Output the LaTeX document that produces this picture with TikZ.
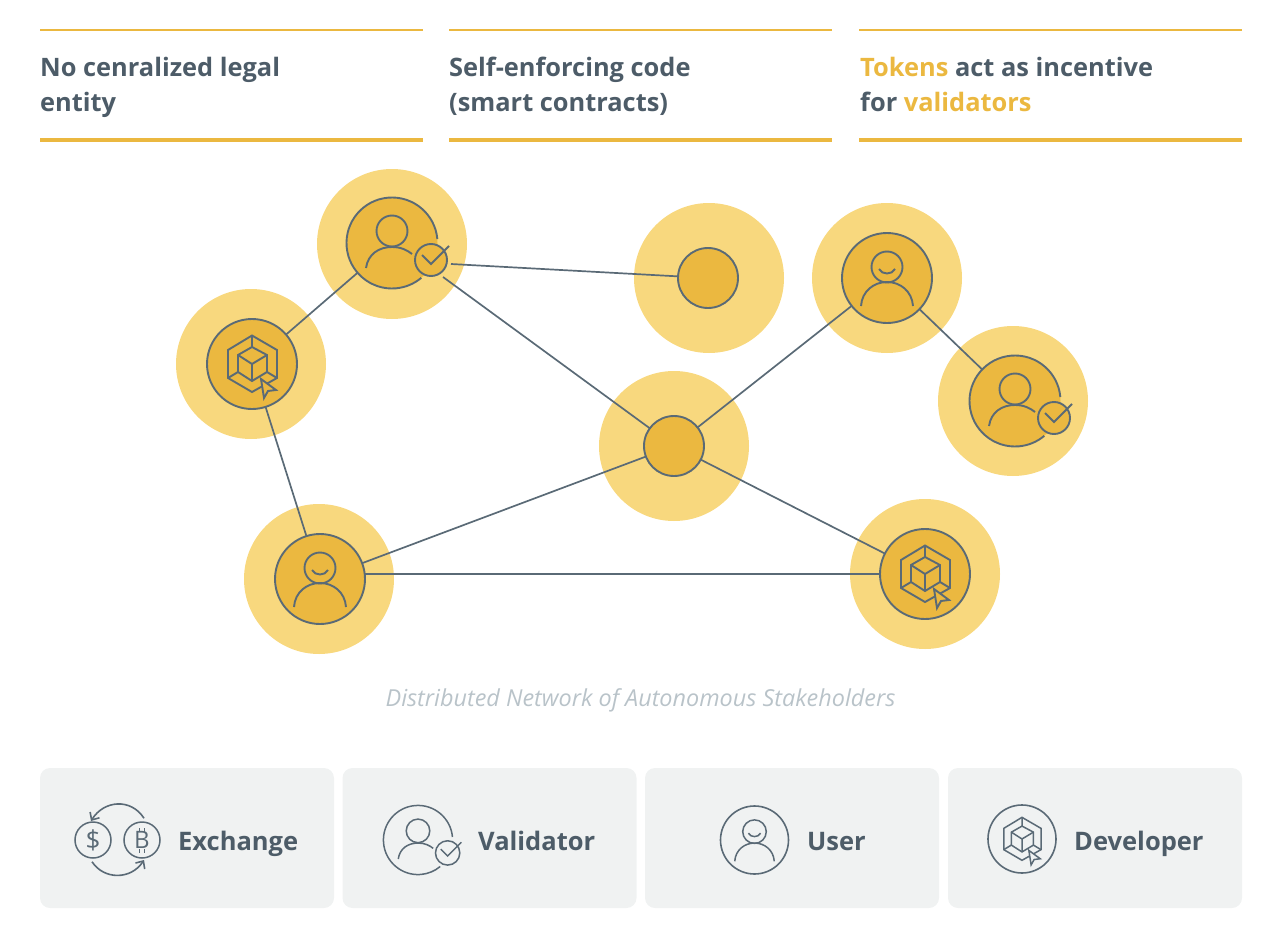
\documentclass[tikz,border=0pt]{standalone}
\usepackage{fontspec}
\setmainfont{Open Sans}
\usetikzlibrary{arrows.meta}

\definecolor{slate}{HTML}{4D5C68}
\definecolor{wire}{HTML}{5A6A76}
\definecolor{gold}{HTML}{EBB840}
\definecolor{halo}{HTML}{F8D87E}
\definecolor{card}{HTML}{F0F2F2}
\definecolor{capt}{HTML}{B9C3C9}

\tikzset{
  pics/validicon/.style={code={
    \draw[glyph] (-5:45.5) arc (-5:-310:45.5);
    \draw[glyph,fill=#1] (39,17) circle (16);
    \draw[glyph] (30,12) -- (39,21) -- (57,3);
    \draw[glyph] (0,-12) circle (15.5);
    \draw[glyph] (-26,25) .. controls (-24,11) and (-13,4) .. (0,4) .. controls (9,4) and (15,7) .. (20,11);
  }},
  pics/usericon/.style={code={
    \draw[glyph] (0,-11) circle (15.5);
    \draw[glyph] (-8,-9) .. controls (-5,-3) and (5,-3) .. (8,-9);
    \draw[glyph] (-26,28) .. controls (-25,13) and (-13,4) .. (0,4) .. controls (13,4) and (25,13) .. (26,28);
  }},
  pics/cubeicon/.style={code={
    \draw[glyph] (0,-28.5) -- (25,-14) -- (25,14) -- (0,28) -- (-24,14) -- (-24,-14) -- cycle;
    \draw[glyph] (0,-17) -- (15,-9) -- (15,8) -- (0,17) -- (-14,8) -- (-14,-9) -- cycle;
    \draw[glyph] (-14,-9) -- (0,0) -- (15,-9) (0,0) -- (0,17);
    \draw[glyph] (0,-28.5) -- (0,-17) (-24,14) -- (-14,8) (25,14) -- (15,8);
    \draw[glyph,fill=#1] (9,15) -- (24,26) -- (16,27) -- (12,34) -- cycle;
  }}
}

\begin{document}
\begin{tikzpicture}[x=1pt,y=-1pt]
    \tikzstyle{glyph}=[draw=wire,line width=1.9pt]
    \tikzstyle{edge}=[draw=wire,line width=1.7pt]
    \tikzstyle{halonode}=[circle,fill=halo,minimum size=150pt,inner sep=0pt,outer sep=0pt]
    \tikzstyle{bignode}=[circle,fill=gold,draw=wire,line width=1.9pt,minimum size=90pt,inner sep=0pt,outer sep=0pt]
    \tikzstyle{opennode}=[circle,fill=gold,minimum size=91pt,inner sep=0pt,outer sep=0pt]
    \tikzstyle{smallnode}=[circle,fill=gold,draw=wire,line width=1.9pt,minimum size=60pt,inner sep=0pt,outer sep=0pt]
    \tikzstyle{ringnode}=[circle,draw=wire,line width=1.6pt,minimum size=68pt,inner sep=0pt]
    \tikzstyle{cardnode}=[rectangle,fill=card,rounded corners=10pt,minimum width=294pt,minimum height=140pt,inner sep=0pt]
    \tikzstyle{head}=[anchor=north west,align=left,text=slate,inner sep=0pt,font=\fontsize{25.4}{35}\selectfont\bfseries]
    \tikzstyle{cardlabel}=[anchor=base west,text=slate,inner sep=0pt,font=\fontsize{25.5}{30}\selectfont\bfseries]
    \useasboundingbox (0,0) rectangle (1264,942);

    % header rules
    \foreach \x in {40,449,859}{
        \draw[gold,line width=1.5pt] (\x,30) -- ++(383,0);
        \draw[gold,line width=4pt] (\x,140) -- ++(383,0);
    }
    \node[head] (headone) at (40,57) {No cenralized legal\\entity};
    \node[head] (headtwo) at (449,57) {Self-enforcing code\\(smart contracts)};
    \node[head] (headthree) at (860,57) {\textcolor{gold}{Tokens} act as incentive\\for \textcolor{gold}{validators}};

    % network
    \node[halonode] (haloa) at (392,244) {};
    \node[halonode] (halob) at (251,364) {};
    \node[halonode] (haloc) at (709,278) {};
    \node[halonode] (halod) at (887,278) {};
    \node[halonode] (haloe) at (1013,401) {};
    \node[halonode] (halof) at (674,446) {};
    \node[halonode] (halog) at (319,579) {};
    \node[halonode] (haloh) at (925,574) {};

    \node[opennode] (valone) at (392,243) {};
    \node[bignode] (devone) at (252,364) {};
    \node[smallnode] (corenode) at (708,278) {};
    \node[bignode] (usrtwo) at (887,278) {};
    \node[opennode] (valtwo) at (1015,401) {};
    \node[smallnode] (hubnode) at (674,446) {};
    \node[bignode] (usrone) at (320,579) {};
    \node[bignode] (devtwo) at (925,574) {};
    \coordinate (valouta) at (451,264);
    \coordinate (valoutb) at (443,277);

    \draw[edge] (valone) -- (devone);
    \draw[edge] (devone) -- (usrone);
    \draw[edge] (valouta) -- (corenode);
    \draw[edge] (valoutb) -- (hubnode);
    \draw[edge] (hubnode) -- (usrtwo);
    \draw[edge] (usrtwo) -- (valtwo);
    \draw[edge] (hubnode) -- (usrone);
    \draw[edge] (hubnode) -- (devtwo);
    \draw[edge] (usrone.east |- devtwo) -- (devtwo);

    \pic at (392,243) {validicon=gold};
    \pic at (1015,401) {validicon=gold};
    \pic at (252,364) {cubeicon=gold};
    \pic at (925,574) {cubeicon=gold};
    \pic at (887,278) {usericon};
    \pic at (320,579) {usericon};

    \node[text=capt,inner sep=0pt,font=\fontsize{23.4}{26}\selectfont\itshape] (capnode) at (640.5,700) {Distributed Network of Autonomous Stakeholders};

    % legend
    \node[cardnode] (cardex) at (187,838) {};
    \node[cardnode] (cardval) at (489.5,838) {};
    \node[cardnode] (cardusr) at (792,838) {};
    \node[cardnode] (carddev) at (1095,838) {};

    \node[circle,glyph,line width=1.5pt,minimum size=36pt,inner sep=0pt,font=\fontsize{26}{26}\selectfont,text=wire] (dollar) at (93,840) {\$};
    \node[circle,glyph,line width=1.5pt,minimum size=36pt,inner sep=0pt,font=\fontsize{24}{24}\selectfont,text=wire] (bitcoin) at (142,840) {B};
    \draw[wire,line width=1.2pt] (139.5,832) -- (139.5,828) (144.5,832) -- (144.5,828) (139.5,849) -- (139.5,853) (144.5,849) -- (144.5,853);
    \draw[wire,line width=1.6pt,-{Straight Barb[length=6pt,width=11pt]}] (bitcoin.north) ++(2,-3) .. controls (131,798) and (104,800) .. (91,821);
    \draw[wire,line width=1.6pt,-{Straight Barb[length=6pt,width=11pt]}] (dollar.south) ++(-1,3) .. controls (104,880) and (131,880) .. (144,860);

    \begin{scope}
    \tikzstyle{glyph}=[draw=wire,line width=1.5pt]
    \pic[scale=0.76] at (418,840) {validicon=card};
    \pic[scale=0.76] at (754.5,840) {usericon};
    \pic[scale=0.76] at (1022,839) {cubeicon=card};
    \end{scope}
    \node[ringnode] (usrring) at (754.5,840) {};
    \node[ringnode] (devring) at (1022,839) {};

    \node[cardlabel] (labex) at (178,850) {Exchange};
    \node[cardlabel] (labval) at (478,850) {Validator};
    \node[cardlabel] (labusr) at (807,850) {User};
    \node[cardlabel] (labdev) at (1074,850) {Developer};
\end{tikzpicture}
\end{document}
